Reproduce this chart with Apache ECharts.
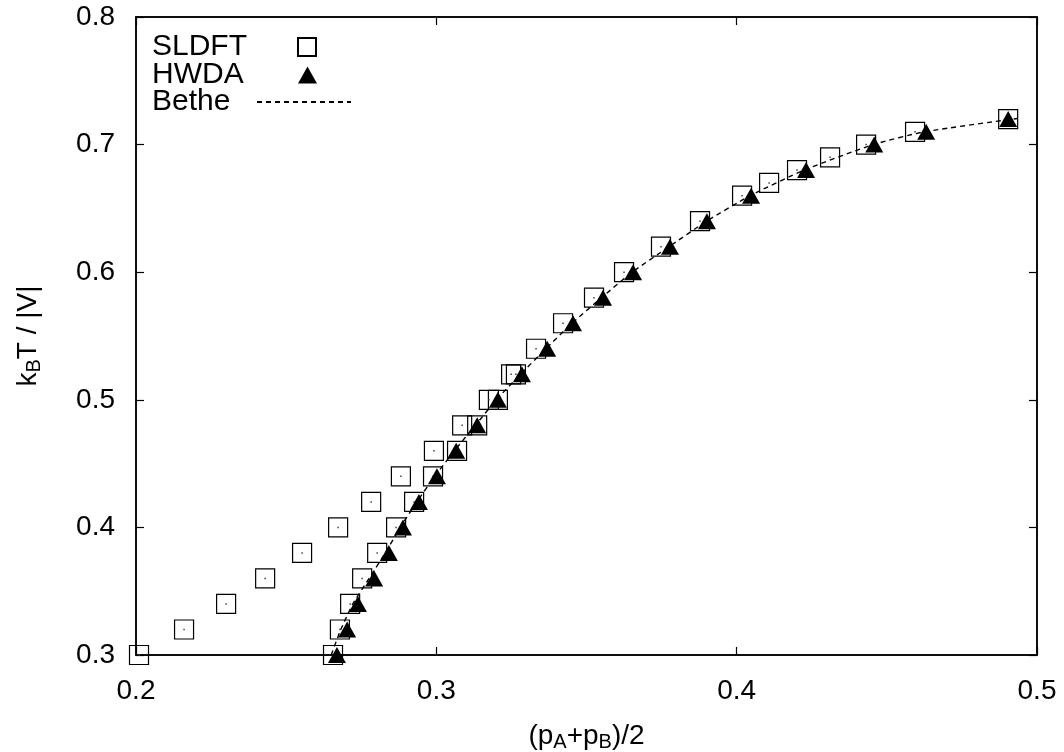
<!DOCTYPE html>
<html>
<head>
<meta charset="utf-8">
<script src="https://cdn.jsdelivr.net/npm/echarts@6/dist/echarts.min.js"></script>
<style>
html,body{margin:0;padding:0;background:#fff;}
#chart{width:1064px;height:752px;}
</style>
</head>
<body>
<div id="chart"></div>
<script>
// ---- data ----
const sldftX = [0.2010,0.2160,0.2300,0.2430,0.2553,0.2673,0.2783,0.2882,0.2992,0.3086,0.3175,
                0.2656,0.2679,0.2713,0.2753,0.2803,0.2866,0.2926,0.2989,0.3069,0.3136,0.3205,
                0.3249,0.3265,0.3332,0.3422,0.3525,0.3625,0.3748,0.3878,0.4018,0.4108,0.4201,0.4311,0.4431,0.4594,0.4904];
const sldftY = [0.30,0.32,0.34,0.36,0.38,0.40,0.42,0.44,0.46,0.48,0.50,
                0.30,0.32,0.34,0.36,0.38,0.40,0.42,0.44,0.46,0.48,0.50,
                0.52,0.52,0.54,0.56,0.58,0.60,0.62,0.64,0.66,0.67,0.68,0.69,0.70,0.71,0.72];
const hwdaX = [0.2669,0.2703,0.2739,0.2793,0.2842,0.2889,0.2942,0.3002,0.3066,0.3136,0.3205,0.3285,
               0.3369,0.3455,0.3555,0.3655,0.3778,0.3901,0.4048,0.4231,0.4458,0.4631,0.4904];
const hwdaY = [0.30,0.32,0.34,0.36,0.38,0.40,0.42,0.44,0.46,0.48,0.50,0.52,
               0.54,0.56,0.58,0.60,0.62,0.64,0.66,0.68,0.70,0.71,0.72];
const betheX = [0.2650,0.2682,0.2722,0.2776,0.2830,0.2880,0.2935,0.2995,0.3060,0.3130,0.3200,0.3280,
                0.3365,0.3452,0.3550,0.3652,0.3775,0.3900,0.4045,0.4225,0.4455,0.4625,0.4935];
const betheY = [0.30,0.32,0.34,0.36,0.38,0.40,0.42,0.44,0.46,0.48,0.50,0.52,
                0.54,0.56,0.58,0.60,0.62,0.64,0.66,0.68,0.70,0.71,0.7205];
const xTicks = {min:0.2, max:0.5, step:0.1};
const yTicks = {min:0.3, max:0.8, step:0.1};
const seriesNames = ['SLDFT','HWDA','Bethe'];

// ---- chart ----
const zip = (xs, ys) => xs.map((x, i) => [x, ys[i]]);
const FONT = "'Liberation Sans', Arial, sans-serif";
const chart = echarts.init(document.getElementById('chart'), null, {renderer:'canvas'});
const fmt = v => v.toFixed(1);
const tickStyle = {show:true, inside:true, length:8, lineStyle:{color:'#000', width:1.2}};
const lineStyle = {show:true, lineStyle:{color:'#000', width:1.5}};

function legendFor(name, top, textW, iconW, iconH, extra) {
  return Object.assign({
    data:[name], orient:'vertical', left:152, top:top, align:'right',
    itemWidth:iconW, itemHeight:iconH, selectedMode:false, padding:0,
    formatter: n => '{t|' + n + '}',
    textStyle:{fontFamily:FONT, fontSize:30, color:'#000',
      rich:{t:{fontFamily:FONT, fontSize:30, color:'#000', width:textW, align:'left', lineHeight:26}}}
  }, extra || {});
}

chart.setOption({
  backgroundColor:'#fff',
  animation:false,
  textStyle:{fontFamily:FONT, color:'#000'},
  grid:{left:136, right:27, top:17, bottom:97, show:true, borderColor:'#000', borderWidth:1.5,
        containLabel:false, outerBoundsMode:'none'},
  legend:[
    legendFor(seriesNames[0], 32, 141, 18, 18),
    legendFor(seriesNames[1], 60, 141, 19, 17),
    legendFor(seriesNames[2], 87, 100, 94, 18, {itemStyle:{opacity:0, borderWidth:0}})
  ],
  xAxis:[{
    type:'value', min:xTicks.min, max:xTicks.max, interval:xTicks.step, position:'bottom',
    axisLine:lineStyle, axisTick:tickStyle, splitLine:{show:false},
    axisLabel:{formatter:fmt, fontSize:28, color:'#000', margin:22, fontFamily:FONT},
    name:'{a|(p}{b|A}{a|+p}{b|B}{a|)/2}', nameLocation:'middle', nameGap:67,
    nameTextStyle:{rich:{
      a:{fontSize:28, fontFamily:FONT, color:'#000', verticalAlign:'top', lineHeight:30},
      b:{fontSize:20, fontFamily:FONT, color:'#000', verticalAlign:'bottom', lineHeight:20, padding:[14,0,0,0]}
    }}
  },{
    type:'value', min:xTicks.min, max:xTicks.max, interval:xTicks.step, position:'top',
    axisLine:lineStyle, axisTick:tickStyle, splitLine:{show:false}, axisLabel:{show:false}
  }],
  yAxis:[{
    type:'value', min:yTicks.min, max:yTicks.max, interval:yTicks.step, position:'left',
    axisLine:lineStyle, axisTick:tickStyle, splitLine:{show:false},
    axisLabel:{formatter:fmt, fontSize:28, color:'#000', margin:21, fontFamily:FONT},
    name:'{a|k}{b|B}{a|T / |V|}', nameLocation:'middle', nameGap:92, nameRotate:90,
    nameTextStyle:{rich:{
      a:{fontSize:28, fontFamily:FONT, color:'#000', verticalAlign:'top', lineHeight:30},
      b:{fontSize:20, fontFamily:FONT, color:'#000', verticalAlign:'bottom', lineHeight:20, padding:[14,0,0,0]}
    }}
  },{
    type:'value', min:yTicks.min, max:yTicks.max, interval:yTicks.step, position:'right',
    axisLine:lineStyle, axisTick:tickStyle, splitLine:{show:false}, axisLabel:{show:false}
  }],
  series:[
    {
      name:seriesNames[0], type:'scatter', data:zip(sldftX, sldftY),
      symbol:'rect', symbolSize:19,
      itemStyle:{color:'rgba(0,0,0,0)', borderColor:'#000', borderWidth:1.2, opacity:1},
      z:2
    },
    {
      name:'dots', type:'scatter', data:zip(sldftX, sldftY),
      symbol:'rect', symbolSize:1.5, itemStyle:{color:'#444', opacity:1}, silent:true, z:2
    },
    {
      name:seriesNames[1], type:'scatter', data:zip(hwdaX, hwdaY),
      symbol:'triangle', symbolSize:[18,16],
      itemStyle:{color:'#000', opacity:1}, z:3
    },
    {
      name:seriesNames[2], type:'line', data:zip(betheX, betheY),
      symbol:'none', smooth:0.2,
      lineStyle:{color:'#000', width:1.4, type:[5,4]},
      itemStyle:{color:'#000'}, z:4
    }
  ]
});
</script>
</body>
</html>
